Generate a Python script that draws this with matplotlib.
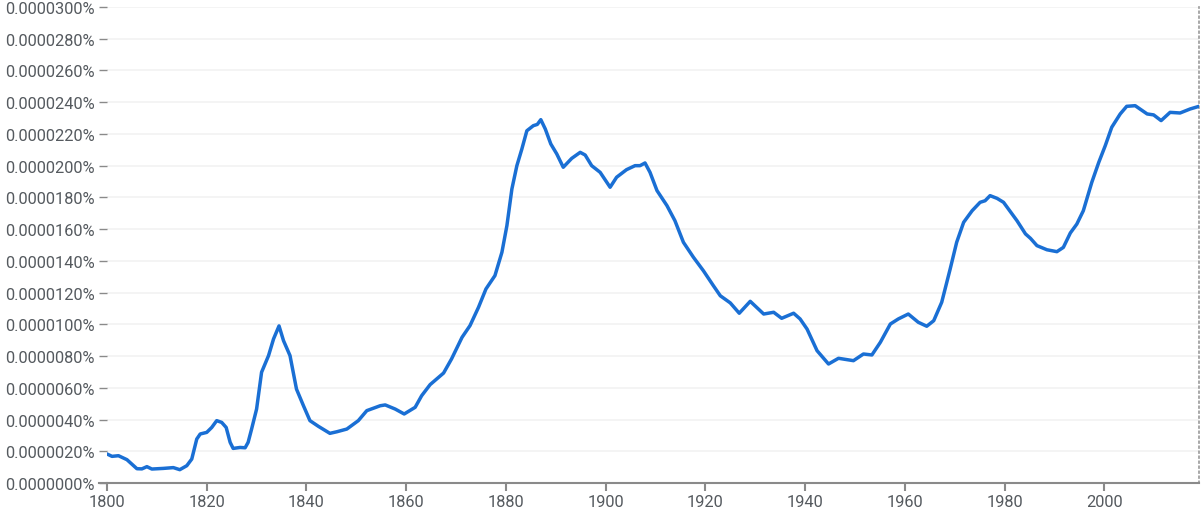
#!/usr/bin/env python3
# -*- coding: utf-8 -*-
"""Ngram-style frequency curve, 1800-2019."""
import matplotlib
matplotlib.use("Agg")
import matplotlib.pyplot as plt
from matplotlib.ticker import FuncFormatter, MultipleLocator

# values, in units of 0.0000001 %
years = [
    1800, 1801, 1802.3, 1804, 1806, 1807, 1808, 1809, 1811.3, 1813.3, 1814.6, 1816, 1817,
    1818, 1818.7, 1820, 1821, 1822, 1823, 1823.9, 1824.7, 1825.3, 1826.7, 1827.7, 1828.3,
    1829, 1830, 1831, 1832.4, 1833.4, 1834.5, 1835.4, 1836.7, 1838, 1839.4, 1840.7, 1842.4,
    1844.7, 1846.1, 1848.1, 1850.4, 1852.1, 1854.8, 1855.8, 1857.8, 1859.6, 1861.8, 1863.1,
    1864.8, 1867.5, 1869.1, 1871.2, 1872.8, 1874.5, 1876, 1877.8, 1879.2, 1880.2, 1881.2,
    1882.2, 1883.2, 1884.2, 1885.5, 1886.3, 1887, 1887.9, 1889, 1890.2, 1891.5, 1893.2,
    1894.9, 1895.9, 1897.2, 1898.9, 1900.9, 1902.2, 1904.2, 1905.9, 1906.9, 1907.9, 1908.9,
    1910.3, 1912.3, 1913.9, 1915.6, 1917.6, 1919.6, 1921.6, 1923, 1925, 1926.8, 1929,
    1931.7, 1933.7, 1935.3, 1937.7, 1939, 1940.4, 1942.4, 1944.7, 1946.7, 1949.7, 1951.7,
    1953.4, 1955.1, 1957.1, 1958.7, 1960.7, 1962.7, 1964.4, 1965.8, 1967.4, 1969.1, 1970.4,
    1971.8, 1973.5, 1975.1, 1976.1, 1977.1, 1978.5, 1979.8, 1982.5, 1984.2, 1985.2, 1986.5,
    1988.5, 1990.5, 1991.8, 1993.2, 1994.5, 1995.8, 1997.5, 1998.9, 2000.2, 2001.5, 2003.2,
    2004.5, 2006.2, 2008.6, 2009.9, 2011.4, 2013.2, 2015.2, 2017.2, 2019,
]
values = [
    18.3, 16.8, 17.2, 14.7, 9.0, 8.9, 10.3, 8.8, 9.2, 9.7, 8.4, 10.9, 15.1,
    27.7, 30.9, 31.9, 35.0, 39.3, 38.2, 35.0, 25.6, 21.8, 22.4, 22.2, 25.6,
    34.0, 46.6, 69.8, 80.3, 90.8, 99.0, 89.7, 80.3, 59.2, 48.7, 39.3, 35.7,
    31.3, 32.3, 34.0, 39.3, 45.6, 48.7, 49.2, 46.6, 43.5, 47.7, 55.0,
    62.0, 69.3, 78.2, 91.8, 99.2, 110.7, 122.3, 130.7, 145.4, 162.2, 185.3,
    200.0, 210.5, 222.0, 225.2, 226.0, 229.0, 223.1, 213.7, 207.4, 199.0, 204.6,
    208.4, 206.7, 200.0, 195.8, 186.4, 192.7, 197.5, 200.0, 200.0, 201.7, 195.8,
    184.3, 174.8, 165.3, 151.7, 142.3, 133.8, 124.4, 118.0, 113.5, 107.0, 114.5,
    106.5, 107.6, 103.8, 107.0, 103.4, 97.0, 83.4, 75.0, 78.6, 77.1, 81.3,
    80.7, 88.7, 100.2, 103.4, 106.5, 101.3, 98.8, 102.3, 113.9, 134.9, 151.7,
    164.3, 171.6, 176.9, 177.9, 181.1, 179.4, 176.9, 165.3, 157.0, 154.2, 149.6,
    147.0, 145.8, 148.5, 157.6, 163.2, 171.6, 189.5, 202.1, 212.6, 224.2, 232.6,
    237.4, 237.8, 232.6, 232.0, 228.4, 233.6, 233.2, 235.7, 237.4,
]

x_ticks = [1800, 1820, 1840, 1860, 1880, 1900, 1920, 1940, 1960, 1980, 2000]

LINE = "#1a6fd4"
TEXT = "#555a5f"
AXIS = "#8a8a8a"

plt.rcParams["font.family"] = ["Roboto", "DejaVu Sans"]

fig = plt.figure(figsize=(12.04, 5.10), dpi=100)
ax = fig.add_axes([107 / 1204, 1 - 484 / 510, (1199 - 107) / 1204, (484 - 8) / 510])

ax.plot(years, values, color=LINE, lw=2.5, solid_capstyle="round", solid_joinstyle="round", zorder=3)

ax.set_xlim(1800, 2019)
ax.set_ylim(0, 300)
ax.yaxis.set_major_locator(MultipleLocator(20))
ax.yaxis.set_major_formatter(FuncFormatter(lambda v, _: f"{v / 1e7:.7f}%"))
ax.set_xticks(x_ticks)

ax.grid(axis="y", color="#f2f2f2", lw=1.2, zorder=0)
ax.tick_params(axis="y", length=6, width=1, color=AXIS, pad=3, labelsize=11.8, labelcolor=TEXT)
ax.tick_params(axis="x", length=6, width=1.5, color=AXIS, pad=2, labelsize=11.8, labelcolor=TEXT)

for s in ("left", "top"):
    ax.spines[s].set_visible(False)
ax.spines["bottom"].set_color(AXIS)
ax.spines["bottom"].set_linewidth(1.5)
ax.spines["right"].set_color("#999999")
ax.spines["right"].set_linestyle((0, (1, 2)))
ax.spines["right"].set_linewidth(1.2)

# axis line runs a little past the left edge, under the tick dashes
ax.plot([-0.007, 0], [0, 0], transform=ax.transAxes, color=AXIS, lw=1.5, clip_on=False)

fig.savefig("out.png", dpi=100)
